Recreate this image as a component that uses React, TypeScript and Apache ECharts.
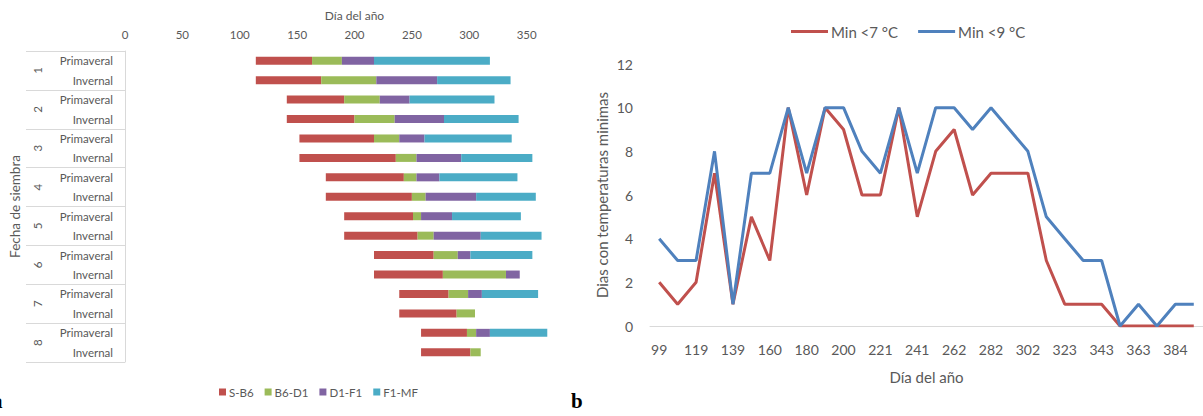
import React, { useEffect, useRef } from "react";
import * as echarts from "echarts";

// ---- Left chart: phenological stages (Gantt-style stacked bars) ----
const rowLabels = [
  "Primaveral", "Invernal", "Primaveral", "Invernal", "Primaveral", "Invernal", "Primaveral", "Invernal",
  "Primaveral", "Invernal", "Primaveral", "Invernal", "Primaveral", "Invernal", "Primaveral", "Invernal",
];
const groupLabels = ["1", "2", "3", "4", "5", "6", "7", "8"];
const startDay = [114, 114, 141, 141, 152, 152, 175, 175, 191, 191, 217, 217, 239, 239, 258, 258];
const sB6 = [49, 57, 50, 59, 65, 84, 68, 75, 60, 64, 52, 60, 43, 50, 40, 43];
const b6D1 = [26, 48, 31, 35, 22, 18, 11, 12, 7, 14, 21, 55, 17, 16, 8, 9];
const d1F1 = [28, 53, 26, 43, 22, 39, 20, 44, 27, 41, 11, 12, 12, 0, 12, 0];
const f1MF = [101, 64, 74, 65, 76, 62, 68, 52, 60, 53, 54, 0, 49, 0, 50, 0];
const stageNames = ["S-B6", "B6-D1", "D1-F1", "F1-MF"];
const stageColors = ["#C0504D", "#9BBB59", "#8064A2", "#4BACC6"];

// ---- Right chart: days with minimum temperatures ----
const days = [
  "99", "109", "119", "129", "139", "150", "160", "170", "180", "190",
  "200", "211", "221", "231", "241", "252", "262", "272", "282", "292",
  "302", "312", "323", "333", "343", "353", "363", "374", "384", "394",
];
const min7 = [2, 1, 2, 7, 1, 5, 3, 10, 6, 10, 9, 6, 6, 10, 5, 8, 9, 6, 7, 7, 7, 3, 1, 1, 1, 0, 0, 0, 0, 0];
const min9 = [4, 3, 3, 8, 1, 7, 7, 10, 7, 10, 10, 8, 7, 10, 7, 10, 10, 9, 10, 9, 8, 5, 4, 3, 3, 0, 1, 0, 1, 1];

const FONT = "Lato";
const GREY = "#595959";
const LINEGREY = "#D9D9D9";

export default function App() {
  const ref = useRef<HTMLDivElement>(null);
  useEffect(() => {
    if (!ref.current) return;
    const chart = echarts.init(ref.current, null, { renderer: "svg" });
    const stageData = [sB6, b6D1, d1F1, f1MF];
    const option: any = {
      animation: false,
      textStyle: { fontFamily: FONT, color: GREY },
      grid: [
        { left: 125, top: 51, width: 459, height: 311 },
        { left: 650, top: 64, width: 558, height: 262 },
      ],
      legend: [
        {
          data: stageNames,
          left: 214,
          top: 381,
          icon: "rect",
          itemWidth: 7,
          itemHeight: 7,
          itemGap: 11,
          textStyle: { fontFamily: FONT, fontSize: 11.5, color: GREY, padding: [0, 0, 0, -2] },
        },
        {
          data: ["Min <7 °C", "Min <9 °C"],
          left: 786,
          top: 19,
          icon: "rect",
          itemWidth: 37,
          itemHeight: 3,
          itemGap: 20,
          textStyle: { fontFamily: FONT, fontSize: 15, color: GREY, padding: [0, 0, 0, -2] },
        },
      ],
      xAxis: [
        {
          gridIndex: 0,
          type: "value",
          position: "top",
          min: 0,
          max: 400,
          interval: 50,
          axisLine: { show: false },
          axisTick: { show: false },
          splitLine: { show: false },
          axisLabel: { showMaxLabel: false, fontSize: 11.5, color: GREY, margin: 11, fontFamily: FONT },
          name: "Día del año",
          nameLocation: "middle",
          nameGap: 30,
          nameTextStyle: { fontSize: 12, color: GREY, fontFamily: FONT },
        },
        {
          gridIndex: 1,
          type: "category",
          data: days,
          boundaryGap: true,
          axisLine: { show: true, lineStyle: { color: LINEGREY, width: 1 } },
          axisTick: { show: false },
          axisLabel: { interval: 1, fontSize: 14, color: GREY, margin: 16, fontFamily: FONT },
          name: "Día del año",
          nameLocation: "middle",
          nameGap: 43,
          nameTextStyle: { fontSize: 15, color: GREY, fontFamily: FONT },
        },
      ],
      yAxis: [
        {
          gridIndex: 0,
          type: "category",
          position: "left",
          inverse: true,
          data: rowLabels,
          axisLine: { show: false },
          axisTick: { show: false },
          axisLabel: { fontSize: 11.5, color: GREY, margin: 12, fontFamily: FONT },
        },
        {
          gridIndex: 0,
          type: "category",
          position: "left",
          inverse: true,
          data: groupLabels,
          axisLine: { show: true, lineStyle: { color: LINEGREY, width: 1 } },
          axisTick: { show: true, length: 99, interval: 0, lineStyle: { color: LINEGREY, width: 1 } },
          axisLabel: { rotate: 90, fontSize: 11.5, color: GREY, margin: 82, fontFamily: FONT },
          name: "Fecha de siembra",
          nameLocation: "middle",
          nameGap: 103,
          nameTextStyle: { fontSize: 13.5, color: GREY, fontFamily: FONT },
        },
        {
          gridIndex: 1,
          type: "value",
          min: 0,
          max: 12,
          interval: 2,
          axisLine: { show: false },
          axisTick: { show: false },
          splitLine: { show: false },
          axisLabel: { fontSize: 14, color: GREY, margin: 17, fontFamily: FONT },
          name: "Dias con temperaturas minimas",
          nameLocation: "middle",
          nameGap: 41,
          nameTextStyle: { fontSize: 15, color: GREY, fontFamily: FONT },
        },
      ],
      series: [
        {
          name: "offset",
          type: "bar",
          xAxisIndex: 0,
          yAxisIndex: 0,
          stack: "g",
          silent: true,
          barWidth: 8,
          itemStyle: { color: "rgba(0,0,0,0)" },
          data: startDay,
        },
        ...stageNames.map((n, i) => ({
          name: n,
          type: "bar",
          xAxisIndex: 0,
          yAxisIndex: 0,
          stack: "g",
          barWidth: 8,
          itemStyle: { color: stageColors[i] },
          data: stageData[i],
        })),
        {
          name: "Min <7 °C",
          type: "line",
          xAxisIndex: 1,
          yAxisIndex: 2,
          symbol: "none",
          lineStyle: { color: "#C0504D", width: 3 },
          itemStyle: { color: "#C0504D" },
          data: min7,
        },
        {
          name: "Min <9 °C",
          type: "line",
          xAxisIndex: 1,
          yAxisIndex: 2,
          symbol: "none",
          lineStyle: { color: "#4F81BD", width: 3 },
          itemStyle: { color: "#4F81BD" },
          data: min9,
        },
      ],
      graphic: [
        {
          type: "text",
          left: 571,
          top: 390,
          style: { text: "b", font: "bold 21px 'Liberation Serif'", fill: "#000" },
        },
        {
          type: "text",
          left: -8,
          top: 390,
          style: { text: "a", font: "bold 21px 'Liberation Serif'", fill: "#000" },
        },
      ],
    };
    chart.setOption(option);
    return () => chart.dispose();
  }, []);
  return (
    <div
      ref={ref}
      style={{ position: "fixed", left: 0, top: 0, width: 1203, height: 416, background: "#fff" }}
    />
  );
}
